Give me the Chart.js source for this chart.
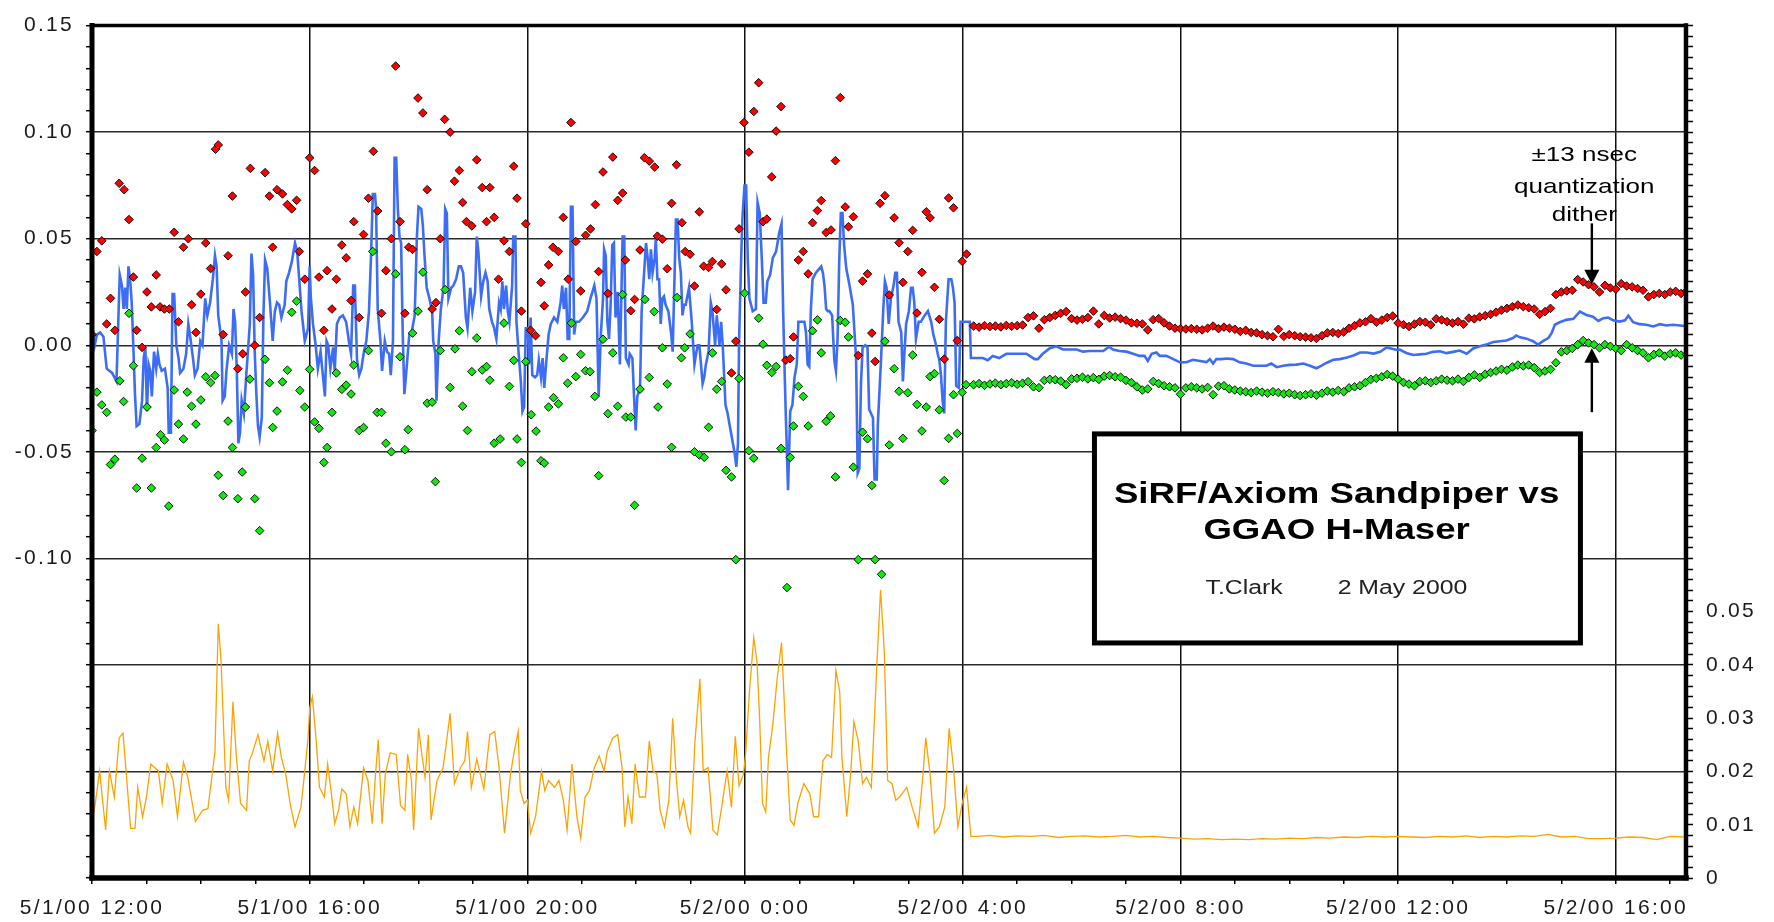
<!DOCTYPE html>
<html>
<head>
<meta charset="utf-8">
<script src="https://cdn.jsdelivr.net/npm/chart.js@4/dist/chart.umd.min.js"></script>
<style>
  html, body { margin: 0; padding: 0; background: #ffffff; }
  #c { display: block; }
</style>
</head>
<body>
<canvas id="c" width="1774" height="922"></canvas>
<script>
// ---------------- DATA (hours since 5/1/00 12:00, offsets) ----------------
const xTickLabels = ["5/1/00 12:00", "5/1/00 16:00", "5/1/00 20:00", "5/2/00 0:00",
                     "5/2/00 4:00", "5/2/00 8:00", "5/2/00 12:00", "5/2/00 16:00"];
const leftTickLabels = ["-0.10", "-0.05", "0.00", "0.05", "0.10", "0.15"];
const rightTickLabels = ["0", "0.01", "0.02", "0.03", "0.04", "0.05"];

// blue: mean offset (left axis)
const bluePts = [
[0.00,-0.018],[0.02,0.004],[0.05,0.000],[0.09,0.005],[0.15,0.006],[0.21,0.004],[0.27,-0.011],[0.37,-0.013],[0.45,-0.017],[0.49,0.017],[0.51,0.033],[0.55,0.028],[0.58,0.017],[0.61,0.027],[0.64,0.017],[0.67,0.037],[0.70,0.031],[0.73,0.020],[0.76,-0.001],[0.79,-0.023],[0.82,-0.038],[0.87,-0.037],[0.92,-0.026],[0.95,-0.006],[0.98,-0.001],[1.01,-0.031],[1.04,-0.009],[1.07,-0.012],[1.10,-0.024],[1.14,-0.003],[1.18,-0.011],[1.21,-0.004],[1.24,-0.009],[1.28,-0.012],[1.34,-0.011],[1.39,-0.020],[1.41,-0.041],[1.45,-0.041],[1.48,0.024],[1.51,0.024],[1.55,0.000],[1.59,-0.006],[1.62,-0.013],[1.68,-0.011],[1.73,-0.004],[1.77,0.010],[1.80,0.005],[1.86,-0.007],[1.89,-0.014],[1.94,-0.011],[1.99,0.002],[2.03,0.000],[2.08,0.022],[2.12,0.014],[2.17,0.020],[2.22,0.031],[2.26,0.042],[2.29,0.037],[2.32,0.014],[2.38,0.002],[2.40,-0.026],[2.44,-0.024],[2.47,-0.012],[2.52,0.000],[2.57,-0.004],[2.60,0.017],[2.63,0.011],[2.66,-0.011],[2.69,-0.046],[2.72,-0.041],[2.75,-0.026],[2.79,-0.032],[2.84,-0.012],[2.90,0.010],[2.93,0.043],[2.96,0.033],[2.99,-0.003],[3.02,-0.023],[3.05,-0.038],[3.08,-0.043],[3.12,-0.034],[3.15,0.014],[3.18,0.040],[3.22,0.036],[3.27,0.020],[3.32,0.002],[3.36,0.016],[3.40,0.020],[3.44,0.019],[3.48,0.013],[3.54,0.019],[3.57,0.030],[3.62,0.034],[3.67,0.039],[3.73,0.048],[3.77,0.044],[3.81,0.030],[3.85,0.016],[3.91,0.002],[3.97,0.008],[4.00,0.037],[4.02,0.023],[4.06,0.010],[4.11,0.000],[4.15,-0.011],[4.20,-0.003],[4.23,-0.011],[4.28,-0.024],[4.31,0.002],[4.34,0.000],[4.38,-0.011],[4.43,-0.001],[4.46,-0.012],[4.50,0.010],[4.55,0.013],[4.61,0.014],[4.67,0.011],[4.72,0.002],[4.76,-0.004],[4.80,0.028],[4.83,0.028],[4.87,-0.007],[4.91,-0.014],[4.95,-0.011],[4.99,-0.004],[5.04,0.002],[5.09,0.016],[5.13,0.044],[5.16,0.071],[5.20,0.071],[5.22,0.064],[5.25,0.017],[5.30,0.002],[5.33,-0.012],[5.38,0.002],[5.42,-0.003],[5.46,-0.004],[5.49,-0.014],[5.53,0.002],[5.56,0.088],[5.59,0.088],[5.62,0.064],[5.65,0.051],[5.68,0.048],[5.71,0.005],[5.74,-0.023],[5.77,-0.014],[5.83,0.005],[5.88,0.007],[5.93,0.014],[5.97,0.051],[6.00,0.065],[6.05,0.064],[6.08,0.056],[6.11,0.042],[6.15,0.027],[6.20,0.022],[6.25,0.016],[6.27,0.002],[6.31,-0.004],[6.33,-0.026],[6.37,0.002],[6.41,0.017],[6.46,0.027],[6.49,0.064],[6.52,0.062],[6.55,0.022],[6.60,0.027],[6.64,0.028],[6.69,0.031],[6.74,0.037],[6.78,0.037],[6.82,0.034],[6.87,0.013],[6.90,0.008],[6.95,0.027],[6.99,0.016],[7.04,0.025],[7.07,0.051],[7.10,0.044],[7.15,0.023],[7.19,0.030],[7.23,0.034],[7.27,0.030],[7.30,0.017],[7.35,0.011],[7.39,0.008],[7.43,0.003],[7.48,0.020],[7.51,0.017],[7.54,0.030],[7.57,0.017],[7.61,0.028],[7.64,0.016],[7.67,0.011],[7.72,0.028],[7.74,0.051],[7.78,0.051],[7.80,0.011],[7.84,-0.004],[7.88,-0.017],[7.91,-0.031],[7.94,-0.029],[7.97,0.008],[8.01,0.008],
[8.03,-0.009],[8.06,0.013],[8.09,-0.014],[8.14,-0.015],[8.18,-0.014],[8.21,-0.007],[8.25,-0.015],[8.28,-0.006],[8.31,-0.020],[8.35,-0.007],[8.39,0.005],[8.43,0.010],[8.49,0.013],[8.55,0.011],[8.61,0.020],[8.64,0.028],[8.67,0.017],[8.71,0.027],[8.74,0.003],[8.77,0.003],[8.80,0.065],[8.83,0.065],[8.86,0.005],[8.89,0.011],[8.95,0.011],[9.02,0.013],[9.10,0.016],[9.16,0.022],[9.23,0.028],[9.27,0.022],[9.31,-0.024],[9.35,0.005],[9.39,0.022],[9.41,0.045],[9.44,0.042],[9.47,0.011],[9.50,0.003],[9.53,0.019],[9.56,0.047],[9.59,0.048],[9.62,0.013],[9.66,0.025],[9.70,-0.009],[9.75,0.051],[9.78,0.051],[9.81,-0.006],[9.86,-0.009],[9.88,-0.004],[9.93,-0.006],[9.96,-0.024],[9.99,-0.040],[10.02,-0.024],[10.07,-0.020],[10.10,0.016],[10.15,0.036],[10.18,0.048],[10.21,0.041],[10.24,0.031],[10.27,0.045],[10.30,0.034],[10.34,0.041],[10.36,0.050],[10.39,0.031],[10.42,0.031],[10.45,0.010],[10.48,0.022],[10.51,0.023],[10.54,0.019],[10.59,0.016],[10.64,0.006],[10.67,-0.003],[10.73,0.059],[10.76,0.059],[10.79,0.041],[10.82,0.034],[10.85,0.014],[10.88,0.019],[10.91,0.019],[10.97,0.027],[11.02,0.011],[11.07,-0.009],[11.10,-0.004],[11.13,0.000],[11.16,0.000],[11.19,-0.009],[11.22,-0.018],[11.25,-0.015],[11.28,-0.009],[11.33,-0.003],[11.37,0.020],[11.40,0.016],[11.45,0.000],[11.48,0.014],[11.53,0.000],[11.56,0.011],[11.59,0.000],[11.64,-0.028],[11.68,-0.032],[11.72,-0.038],[11.77,-0.045],[11.81,-0.051],[11.84,-0.057],[11.87,-0.046],[11.89,0.002],[11.93,0.042],[11.95,0.059],[11.99,0.075],[12.02,0.075],[12.05,0.040],[12.08,0.022],[12.14,0.016],[12.20,0.017],[12.23,0.067],[12.27,0.062],[12.31,0.039],[12.34,0.020],[12.38,0.020],[12.41,0.030],[12.46,0.033],[12.51,0.041],[12.57,0.044],[12.63,0.053],[12.67,0.057],[12.70,0.016],[12.73,-0.015],[12.75,-0.034],[12.79,-0.068],[12.83,-0.031],[12.87,-0.028],[12.91,-0.015],[12.95,-0.009],[12.98,0.011],[13.03,0.011],[13.09,0.011],[13.12,0.006],[13.15,-0.009],[13.18,-0.010],[13.21,0.017],[13.24,0.031],[13.30,0.034],[13.40,0.037],[13.43,0.034],[13.46,0.028],[13.49,0.017],[13.52,0.016],[13.55,0.016],[13.60,0.014],[13.64,-0.007],[13.67,-0.012],[13.70,0.003],[13.73,0.039],[13.76,0.062],[13.79,0.062],[13.82,0.047],[13.86,0.036],[13.92,0.028],[13.98,0.019],[14.04,-0.006],[14.07,-0.060],[14.10,-0.058],[14.13,-0.018],[14.16,-0.001],[14.21,0.000],[14.25,-0.001],[14.28,-0.030],[14.35,-0.034],[14.38,-0.063],[14.42,-0.063],[14.44,-0.037],[14.50,-0.006],[14.54,0.017],[14.57,0.030],[14.60,0.027],[14.64,0.010],[14.68,0.022],[14.73,0.028],[14.76,0.034],[14.79,0.034],[14.82,0.011],[14.87,0.006],[14.90,-0.017],[14.93,-0.003],[14.96,0.010],[15.01,0.016],[15.05,0.027],[15.08,0.027],[15.11,0.020],[15.14,0.003],[15.19,0.011],[15.23,0.011],[15.30,0.014],[15.36,0.016],[15.42,0.011],[15.46,0.005],[15.51,0.000],[15.54,-0.004],[15.57,-0.007],[15.60,-0.014],[15.63,-0.026],[15.66,-0.032],[15.69,0.011],[15.74,0.031],[15.79,0.031],[15.82,0.027],[15.85,0.020],[15.88,-0.019],[15.93,-0.020],[15.96,0.011],[16.13,0.011],[16.15,-0.006],
[16.37,-0.006],[16.46,-0.007],[16.55,-0.005],[16.67,-0.006],[16.80,-0.004],[16.98,-0.004],[17.17,-0.004],[17.23,-0.005],[17.32,-0.0065],[17.38,-0.0065],[17.47,-0.004],[17.60,-0.0014],[17.72,-0.0005],[17.84,-0.002],[17.96,-0.002],[18.09,-0.002],[18.21,-0.003],[18.33,-0.0027],[18.45,-0.0027],[18.58,-0.0027],[18.69,-0.0007],[18.76,-0.002],[18.88,-0.0027],[19.01,-0.003],[19.13,-0.004],[19.25,-0.005],[19.34,-0.005],[19.40,-0.0074],[19.47,-0.004],[19.56,-0.0034],[19.62,-0.005],[19.74,-0.005],[19.87,-0.0065],[19.99,-0.008],[20.11,-0.008],[20.23,-0.0068],[20.36,-0.0074],[20.48,-0.0079],[20.54,-0.0065],[20.60,-0.0086],[20.66,-0.0065],[20.75,-0.0065],[20.85,-0.0062],[20.97,-0.0065],[21.09,-0.008],[21.21,-0.0086],[21.34,-0.0096],[21.46,-0.0096],[21.58,-0.0096],[21.67,-0.0086],[21.77,-0.0103],[21.89,-0.0096],[22.01,-0.0092],[22.13,-0.0091],[22.26,-0.0086],[22.38,-0.0096],[22.50,-0.0108],[22.56,-0.010],[22.69,-0.0082],[22.81,-0.0068],[22.93,-0.0065],[23.06,-0.0057],[23.18,-0.0048],[23.30,-0.0034],[23.42,-0.0034],[23.55,-0.0039],[23.67,-0.0031],[23.79,-0.001],[23.85,-0.0014],[23.98,-0.0022],[24.03,-0.002],[24.15,-0.0036],[24.28,-0.0046],[24.40,-0.0043],[24.52,-0.004],[24.64,-0.0031],[24.77,-0.0028],[24.89,-0.0037],[25.01,-0.0031],[25.13,-0.0025],[25.26,-0.004],[25.38,-0.0015],[25.50,-0.0005],[25.62,0.0003],[25.75,0.0015],[25.87,0.0019],[25.99,0.0022],[26.11,0.0034],[26.17,0.0046],[26.24,0.0037],[26.36,0.0031],[26.48,0.0019],[26.57,0.0003],[26.66,0.0019],[26.76,0.0034],[26.82,0.0057],[26.88,0.0096],[26.97,0.0108],[27.09,0.0119],[27.22,0.0124],[27.34,0.0158],[27.46,0.0142],[27.58,0.0134],[27.68,0.0114],[27.77,0.0127],[27.86,0.013],[27.95,0.0117],[28.07,0.0111],[28.17,0.0117],[28.23,0.0139],[28.32,0.0108],[28.44,0.0099],[28.56,0.0096],[28.69,0.0088],[28.81,0.0099],[28.93,0.0093],[29.05,0.0096],[29.18,0.0093],[29.27,0.009]
];

// red: upper samples, noisy period (left axis)
const redNoisy = [
[0.00,0.005],[0.09,0.044],[0.18,0.049],[0.27,0.010],[0.34,0.022],[0.42,0.007],[0.50,0.076],[0.59,0.073],[0.68,0.059],[0.76,0.032],[0.82,0.007],[0.92,-0.001],[1.01,0.025],[1.09,0.018],[1.18,0.033],[1.25,0.018],[1.33,0.017],[1.42,0.017],[1.51,0.053],[1.59,0.011],[1.68,0.046],[1.77,0.050],[1.83,0.019],[1.91,0.006],[2.00,0.024],[2.09,0.048],[2.18,0.036],[2.27,0.092],[2.32,0.094],[2.41,0.005],[2.50,0.042],[2.58,0.070],[2.68,-0.011],[2.77,-0.004],[2.82,0.025],[2.91,0.083],[2.99,0.000],[3.08,0.013],[3.18,0.081],[3.26,0.070],[3.32,0.046],[3.40,0.073],[3.50,0.071],[3.59,0.066],[3.67,0.064],[3.76,0.068],[3.81,0.044],[3.91,0.031],[4.00,0.088],[4.09,0.082],[4.17,0.032],[4.26,0.007],[4.32,0.035],[4.41,0.017],[4.49,0.031],[4.59,0.047],[4.67,0.041],[4.76,0.021],[4.81,0.058],[4.91,0.013],[4.99,0.052],[5.08,0.069],[5.17,0.091],[5.25,0.063],[5.32,0.015],[5.40,0.035],[5.50,0.050],[5.58,0.131],[5.66,0.058],[5.75,0.015],[5.82,0.046],[5.89,0.045],[5.99,0.116],[6.08,0.109],[6.16,0.073],[6.25,0.017],[6.32,0.020],[6.40,0.050],[6.48,0.106],[6.58,0.100],[6.66,0.077],[6.75,0.082],[6.81,0.067],[6.88,0.058],[6.98,0.056],[7.07,0.087],[7.17,0.074],[7.25,0.058],[7.31,0.074],[7.39,0.060],[7.47,0.031],[7.57,0.049],[7.67,0.044],[7.75,0.084],[7.81,0.069],[7.89,0.016],[7.97,0.057],
[8.06,0.007],[8.15,0.0045],[8.25,0.0295],[8.31,0.0185],[8.39,0.0377],[8.47,0.046],[8.57,0.044],[8.66,0.060],[8.75,0.031],[8.80,0.1045],[8.89,0.0487],[8.98,0.0255],[9.07,0.0516],[9.16,0.0546],[9.25,0.066],[9.31,0.0346],[9.39,0.0813],[9.48,0.0243],[9.57,0.0883],[9.66,0.068],[9.75,0.0714],[9.80,0.040],[9.90,0.0162],[9.97,0.0215],[10.07,0.0447],[10.15,0.088],[10.24,0.0864],[10.34,0.0836],[10.39,0.0512],[10.48,0.0498],[10.57,0.0359],[10.65,0.0666],[10.74,0.0847],[10.84,0.0575],[10.90,0.044],[10.99,0.0427],[11.07,0.0278],[11.16,0.0626],[11.24,0.0371],[11.33,0.0365],[11.40,0.0393],[11.48,0.0168],[11.57,0.0382],[11.65,0.026],[11.75,-0.013],[11.83,0.0019],[11.89,0.0546],[11.98,0.1045],[12.07,0.0906],[12.16,0.1097],[12.25,0.1232],[12.33,0.058],[12.40,0.0592],[12.49,0.079],[12.57,0.1005],[12.66,0.112],[12.75,-0.007],[12.83,-0.0063],[12.89,0.0039],[12.98,0.040],[13.07,0.044],[13.16,0.0335],[13.24,0.0575],[13.33,0.0632],[13.40,0.0679],[13.49,0.0529],[13.58,0.0541],[13.66,0.0866],[13.75,0.1162],[13.84,0.0649],[13.90,0.0556],[13.99,0.0603],[14.08,-0.0048],[14.16,0.0301],[14.25,0.0335],[14.33,0.0057],[14.39,-0.0076],[14.48,0.0666],[14.57,0.0702],[14.65,0.0236],[14.74,0.0598],[14.83,0.0481],[14.90,0.0295],[14.99,0.044],[15.08,0.0539],[15.16,0.0151],[15.25,0.0342],[15.33,0.0626],[15.40,0.0598],[15.48,0.0272],[15.57,0.0122],[15.66,-0.0065],[15.74,0.0691],[15.83,0.0645],[15.90,0.0022],[15.99,0.0394],[16.07,0.0428]
];

// green: lower samples, noisy period (left axis)
const greenNoisy = [
[0.00,-0.040],[0.09,-0.022],[0.18,-0.028],[0.27,-0.0315],[0.34,-0.056],[0.42,-0.0535],[0.51,-0.0167],[0.58,-0.0264],[0.68,0.015],[0.76,-0.0096],[0.82,-0.067],[0.92,-0.053],[1.01,-0.029],[1.09,-0.067],[1.18,-0.048],[1.26,-0.042],[1.33,-0.0445],[1.41,-0.0755],[1.51,-0.021],[1.59,-0.037],[1.68,-0.044],[1.75,-0.022],[1.83,-0.0286],[1.91,-0.037],[2.00,-0.0257],[2.09,-0.0148],[2.18,-0.0175],[2.26,-0.0142],[2.32,-0.061],[2.41,-0.0705],[2.50,-0.0356],[2.58,-0.048],[2.68,-0.072],[2.76,-0.0595],[2.82,-0.029],[2.90,-0.0159],[2.99,-0.072],[3.08,-0.087],[3.18,-0.0066],[3.26,-0.0176],[3.32,-0.0386],[3.40,-0.0309],[3.50,-0.0172],[3.59,-0.0117],[3.67,0.0155],[3.76,0.0207],[3.82,-0.0212],[3.91,-0.029],[4.00,-0.0113],[4.09,-0.036],[4.17,-0.039],[4.26,-0.055],[4.32,-0.048],[4.41,-0.0315],[4.49,-0.013],[4.59,-0.0207],[4.67,-0.0187],[4.76,-0.0229],[4.81,-0.0093],[4.91,-0.040],[4.99,-0.0386],[5.08,-0.0025],[5.16,0.044],[5.24,-0.0315],[5.32,-0.0315],[5.40,-0.046],[5.50,-0.050],[5.58,0.0335],[5.66,-0.0054],[5.75,-0.049],[5.81,-0.0396],[5.89,0.0057],[5.99,0.016],[6.08,0.0343],[6.16,-0.0272],[6.25,-0.0267],[6.31,-0.064],[6.40,-0.0025],[6.49,0.0261],[6.58,-0.0198],[6.67,-0.0017],[6.75,0.0068],[6.81,-0.0286],[6.90,-0.040],[6.98,-0.0124],[7.07,0.0034],[7.17,-0.0116],[7.25,-0.010],[7.31,-0.0164],[7.39,-0.046],[7.50,-0.044],[7.57,0.0104],[7.67,-0.0193],[7.75,-0.0071],[7.81,-0.044],[7.89,-0.055],[7.97,-0.0077],
[8.07,-0.0326],[8.16,-0.0403],[8.25,-0.0542],[8.31,-0.0553],[8.39,-0.029],[8.48,-0.0246],[8.57,-0.0275],[8.66,-0.0059],[8.74,-0.0178],[8.81,0.0104],[8.89,-0.0147],[8.98,-0.0043],[9.07,-0.012],[9.15,-0.0124],[9.24,-0.024],[9.31,-0.0612],[9.39,0.0028],[9.48,-0.0321],[9.57,-0.0036],[9.66,-0.0286],[9.75,0.0238],[9.81,-0.0337],[9.90,-0.0337],[9.97,-0.0751],[10.07,-0.0206],[10.16,0.0215],[10.24,-0.0151],[10.33,0.0158],[10.40,-0.029],[10.48,-0.0012],[10.57,-0.0182],[10.65,-0.0479],[10.75,0.0224],[10.83,-0.0059],[10.89,-0.0012],[10.99,0.0053],[11.07,-0.050],[11.16,-0.0515],[11.25,-0.0526],[11.33,-0.0385],[11.40,-0.0036],[11.48,-0.0206],[11.57,-0.017],[11.65,-0.0587],[11.75,-0.0618],[11.83,-0.1006],[11.89,-0.0156],[11.99,0.0244],[12.07,-0.0495],[12.16,-0.053],[12.25,0.0127],[12.33,0.0005],[12.40,-0.0094],[12.49,-0.0128],[12.57,-0.010],[12.66,-0.0484],[12.77,-0.1137],[12.83,-0.0526],[12.89,-0.0379],[12.98,-0.0193],[13.07,-0.024],[13.16,-0.0379],[13.24,0.0068],[13.33,0.0119],[13.40,-0.0036],[13.49,-0.0357],[13.57,-0.0332],[13.66,-0.0618],[13.75,0.0116],[13.84,0.0108],[13.90,0.0039],[13.99,-0.0572],[14.08,-0.1006],[14.16,-0.0408],[14.25,-0.0439],[14.33,-0.0658],[14.39,-0.1006],[14.51,-0.1075],[14.57,0.0019],[14.65,-0.0468],[14.74,-0.011],[14.83,-0.0216],[14.90,-0.0437],[14.99,-0.0223],[15.08,-0.0046],[15.16,-0.0278],[15.25,-0.0402],[15.33,-0.029],[15.40,-0.0147],[15.48,-0.0133],[15.57,-0.0303],[15.66,-0.0635],[15.74,-0.0437],[15.83,-0.0232],[15.90,-0.0414],[15.99,-0.0221],[16.06,-0.0185]
];

// quiet period: samples every 0.1 h from 16.2 h to 29.3 h
const quietStart = 16.2, quietStep = 0.1;
const redQuiet = [
0.0090,0.0085,0.0092,0.0088,0.0090,0.0086,0.0093,0.0089,0.0092,0.0095,
0.0130,0.0138,0.0080,0.0120,0.0130,0.0140,0.0150,0.0158,0.0125,0.0118,
0.0122,0.0130,0.0160,0.0100,0.0140,0.0128,0.0132,0.0125,0.0118,0.0105,
0.0103,0.0100,0.0072,0.0120,0.0125,0.0105,0.0090,0.0080,0.0078,0.0076,
0.0078,0.0075,0.0072,0.0080,0.0090,0.0078,0.0085,0.0080,0.0075,0.0065,
0.0070,0.0060,0.0058,0.0050,0.0045,0.0040,0.0075,0.0042,0.0050,0.0045,
0.0040,0.0038,0.0035,0.0032,0.0045,0.0058,0.0060,0.0055,0.0062,0.0080,
0.0092,0.0105,0.0110,0.0125,0.0108,0.0118,0.0130,0.0137,0.0104,0.0096,
0.0088,0.0099,0.0111,0.0108,0.0096,0.0124,0.0119,0.0111,0.0104,0.0111,
0.0099,0.0127,0.0124,0.0133,0.0139,0.0145,0.0155,0.0165,0.0173,0.0181,
0.0189,0.0181,0.0176,0.0170,0.0145,0.0158,0.0173,0.0238,0.0250,0.0255,
0.0258,0.0308,0.0297,0.0284,0.0274,0.0250,0.0281,0.0269,0.0263,0.0289,
0.0278,0.0274,0.0266,0.0258,0.0227,0.0238,0.0243,0.0238,0.0250,0.0253,
0.0243,0.0255
];
const greenQuiet = [
-0.0185,-0.0180,-0.0188,-0.0182,-0.0178,-0.0185,-0.0180,-0.0176,-0.0183,-0.0178,
-0.0171,-0.0195,-0.0199,-0.0165,-0.0160,-0.0162,-0.0168,-0.0185,-0.0158,-0.0155,
-0.0150,-0.0158,-0.0152,-0.0160,-0.0145,-0.0142,-0.0148,-0.0150,-0.0165,-0.0175,
-0.0195,-0.0210,-0.0205,-0.0170,-0.0180,-0.0190,-0.0195,-0.0200,-0.0230,-0.0200,
-0.0195,-0.0200,-0.0205,-0.0198,-0.0232,-0.0192,-0.0190,-0.0205,-0.0210,-0.0215,
-0.0218,-0.0222,-0.0215,-0.0220,-0.0225,-0.0218,-0.0222,-0.0228,-0.0225,-0.0232,
-0.0236,-0.0232,-0.0228,-0.0234,-0.0225,-0.0215,-0.0220,-0.0212,-0.0218,-0.0200,
-0.0195,-0.0190,-0.0175,-0.0160,-0.0155,-0.0148,-0.0137,-0.0145,-0.0159,-0.0175,
-0.0182,-0.0190,-0.0170,-0.0167,-0.0175,-0.0167,-0.0159,-0.0164,-0.0167,-0.0159,
-0.0170,-0.0151,-0.0139,-0.0151,-0.0136,-0.0128,-0.0121,-0.0113,-0.0117,-0.0102,
-0.0093,-0.0097,-0.0093,-0.0105,-0.0128,-0.0121,-0.0113,-0.0082,-0.0031,-0.0025,
-0.0015,0.0003,0.0022,0.0011,0.0003,-0.0012,0.0003,-0.0005,-0.0015,-0.0025,
0.0003,-0.0012,-0.0025,-0.0036,-0.0059,-0.0043,-0.0036,-0.0051,-0.0040,-0.0036,
-0.0046,-0.0043
];

// orange: scatter (sigma) on right axis
const orangePts = [
[0.00,0.0102],[0.06,0.0140],[0.14,0.0201],[0.25,0.0090],[0.32,0.0201],[0.41,0.0152],[0.50,0.0263],[0.57,0.0272],[0.63,0.0195],[0.71,0.0093],[0.79,0.0093],[0.84,0.0170],[0.93,0.0115],[1.00,0.0152],[1.08,0.0214],[1.22,0.0201],[1.29,0.0140],[1.38,0.0214],[1.49,0.0183],[1.57,0.0115],[1.68,0.0217],[1.76,0.0189],[1.90,0.0106],[2.03,0.0127],[2.13,0.0130],[2.26,0.0238],[2.32,0.0477],[2.37,0.0411],[2.46,0.0170],[2.51,0.0146],[2.59,0.0331],[2.65,0.0232],[2.73,0.0140],[2.84,0.0127],[2.89,0.0220],[2.94,0.0232],[3.05,0.0269],[3.16,0.0220],[3.23,0.0257],[3.32,0.0201],[3.41,0.0272],[3.48,0.0226],[3.56,0.0195],[3.64,0.0140],[3.73,0.0096],[3.84,0.0133],[3.91,0.0201],[3.97,0.0263],[4.00,0.0319],[4.05,0.0340],[4.12,0.0257],[4.18,0.0170],[4.27,0.0152],[4.33,0.0214],[4.40,0.0158],[4.46,0.0102],[4.53,0.0127],[4.59,0.0167],[4.67,0.0158],[4.74,0.0096],[4.81,0.0133],[4.88,0.0102],[4.94,0.0158],[4.99,0.0207],[5.07,0.0183],[5.15,0.0102],[5.21,0.0195],[5.26,0.0260],[5.33,0.0102],[5.39,0.0195],[5.48,0.0235],[5.59,0.0232],[5.67,0.0136],[5.75,0.0127],[5.80,0.0232],[5.87,0.0183],[5.91,0.0090],[6.00,0.0281],[6.07,0.0226],[6.12,0.0189],[6.18,0.0269],[6.23,0.0109],[6.34,0.0183],[6.45,0.0207],[6.50,0.0244],[6.58,0.0309],[6.66,0.0177],[6.77,0.0207],[6.85,0.0220],[6.90,0.0275],[6.97,0.0170],[7.07,0.0223],[7.20,0.0167],[7.31,0.0269],[7.40,0.0275],[7.48,0.0207],[7.58,0.0084],[7.69,0.0195],[7.76,0.0238],[7.83,0.0275],[7.87,0.0164],[7.94,0.0140],[8.00,0.0146],[8.06,0.0084],[8.15,0.0115],[8.26,0.0201],[8.32,0.0164],[8.39,0.0183],[8.50,0.0170],[8.58,0.0183],[8.66,0.0146],[8.73,0.0090],[8.82,0.0214],[8.91,0.0115],[8.98,0.0075],[9.06,0.0152],[9.14,0.0164],[9.23,0.0207],[9.32,0.0229],[9.41,0.0201],[9.47,0.0238],[9.57,0.0263],[9.66,0.0269],[9.74,0.0207],[9.79,0.0096],[9.85,0.0152],[9.92,0.0102],[9.98,0.0214],[10.06,0.0152],[10.17,0.0152],[10.24,0.0257],[10.31,0.0201],[10.38,0.0195],[10.44,0.0127],[10.52,0.0096],[10.60,0.0146],[10.67,0.0300],[10.74,0.0183],[10.80,0.0115],[10.87,0.0146],[10.95,0.0096],[11.00,0.0084],[11.08,0.0257],[11.17,0.0374],[11.23,0.0201],[11.32,0.0207],[11.41,0.0090],[11.49,0.0081],[11.57,0.0133],[11.67,0.0201],[11.75,0.0133],[11.82,0.0266],[11.89,0.0173],[11.97,0.0195],[12.01,0.0232],[12.08,0.0349],[12.16,0.0451],[12.22,0.0405],[12.27,0.0294],[12.32,0.0140],[12.38,0.0124],[12.43,0.0226],[12.51,0.0288],[12.59,0.0374],[12.67,0.0442],[12.76,0.0244],[12.83,0.0109],[12.90,0.0099],[12.97,0.0140],[13.08,0.0177],[13.19,0.0158],[13.26,0.0115],[13.35,0.0115],[13.43,0.0220],[13.51,0.0232],[13.59,0.0226],[13.67,0.0390],[13.74,0.0349],[13.78,0.0226],[13.87,0.0115],[13.94,0.0195],[14.00,0.0294],[14.08,0.0257],[14.16,0.0177],[14.23,0.0189],[14.32,0.0170],[14.43,0.0417],[14.49,0.0541],[14.56,0.0423],[14.62,0.0183],[14.70,0.0177],[14.77,0.0146],[14.84,0.0152],[14.97,0.0170],[15.07,0.0133],[15.18,0.0096],[15.26,0.0183],[15.32,0.0263],[15.40,0.0195],[15.48,0.0084],[15.57,0.0096],[15.67,0.0133],[15.75,0.0281],[15.83,0.0207],[15.91,0.0096],[15.99,0.0140],[16.07,0.0170],[16.15,0.0078],
[16.25,0.0078],[16.5,0.0080],[16.75,0.0077],[17,0.0079],[17.25,0.0078],[17.5,0.0080],[17.75,0.0076],[18,0.0078],[18.25,0.0079],[18.5,0.0077],[18.75,0.0078],[19,0.0080],[19.25,0.0077],[19.5,0.0078],[19.75,0.0076],[20,0.0075],[20.25,0.0073],[20.5,0.0074],[20.75,0.0072],[21,0.0073],[21.25,0.0072],[21.5,0.0074],[21.75,0.0073],[22,0.0075],[22.25,0.0074],[22.5,0.0076],[22.75,0.0075],[23,0.0077],[23.25,0.0076],[23.5,0.0078],[23.75,0.0077],[24,0.0078],[24.25,0.0077],[24.5,0.0076],[24.75,0.0078],[25,0.0077],[25.25,0.0079],[25.5,0.0076],[25.75,0.0078],[26,0.0077],[26.25,0.0079],[26.5,0.0078],[26.75,0.0082],[27,0.0077],[27.25,0.0078],[27.5,0.0074],[27.75,0.0074],[28,0.0075],[28.25,0.0077],[28.5,0.0076],[28.75,0.0072],[29,0.0078],[29.25,0.0077]
];

// ---------------- build datasets ----------------
const toXY = arr => arr.map(p => ({x: p[0], y: p[1]}));
const quietXY = vals => vals.map((v, i) => ({x: +(quietStart + i * quietStep).toFixed(2), y: v}));
const redData = toXY(redNoisy).concat(quietXY(redQuiet));
const greenData = toXY(greenNoisy).concat(quietXY(greenQuiet));

const near = (v, step) => Math.abs(Math.round(v / step) * step - v) < 1e-7;

// annotation anchors in data units (hours, left-axis value)
const noteBox = {x0: 18.42, x1: 27.35, y0: -0.0416, y1: -0.1397};
const noteTitle = ["SiRF/Axiom Sandpiper vs", "GGAO H-Maser"];
const noteAuthor = "T.Clark", noteDate = "2 May 2000";
const ditherText = ["\u00B113 nsec", "quantization", "dither"];

const frameAndNotes = {
  id: 'frameAndNotes',
  beforeDraw(chart) { chart.ctx.letterSpacing = '2.3px'; },
  afterDatasetsDraw(chart) {
    const {ctx, chartArea: a} = chart;
    const sx = chart.scales.x, sy = chart.scales.y;
    const X = v => sx.getPixelForValue(v), Y = v => sy.getPixelForValue(v);
    ctx.save();
    ctx.letterSpacing = '0px';
    // plot frame
    ctx.strokeStyle = '#000';
    ctx.lineCap = 'square';
    ctx.lineWidth = 3.5; ctx.beginPath(); ctx.moveTo(a.left, a.top); ctx.lineTo(a.right, a.top); ctx.stroke();
    ctx.lineWidth = 5.5; ctx.beginPath(); ctx.moveTo(a.left, a.bottom); ctx.lineTo(a.right, a.bottom); ctx.stroke();
    ctx.lineWidth = 5; ctx.beginPath(); ctx.moveTo(a.left, a.top); ctx.lineTo(a.left, a.bottom); ctx.stroke();
    ctx.lineWidth = 4.5; ctx.beginPath(); ctx.moveTo(a.right, a.top); ctx.lineTo(a.right, a.bottom); ctx.stroke();

    // title box
    const bx0 = X(noteBox.x0), bx1 = X(noteBox.x1), by0 = Y(noteBox.y0), by1 = Y(noteBox.y1);
    ctx.fillStyle = '#fff';
    ctx.fillRect(bx0, by0, bx1 - bx0, by1 - by0);
    ctx.lineCap = 'butt';
    ctx.lineWidth = 5;
    ctx.strokeStyle = '#000';
    ctx.strokeRect(bx0, by0, bx1 - bx0, by1 - by0);

    const stretched = (txt, cx, cy, font, color, sxf) => {
      ctx.save();
      ctx.translate(cx, cy);
      ctx.scale(sxf, 1);
      ctx.font = font;
      ctx.fillStyle = color;
      ctx.textAlign = 'center';
      ctx.textBaseline = 'middle';
      ctx.fillText(txt, 0, 0);
      ctx.restore();
    };
    const cx = X(22.87);
    stretched(noteTitle[0], cx, Y(-0.0702), 'bold 30px "Liberation Sans", Arial, sans-serif', '#000', 1.22);
    stretched(noteTitle[1], cx, Y(-0.0869), 'bold 30px "Liberation Sans", Arial, sans-serif', '#000', 1.22);
    stretched(noteAuthor, X(21.17), Y(-0.1143), '20px "Liberation Sans", Arial, sans-serif', '#222', 1.24);
    stretched(noteDate, X(24.08), Y(-0.1143), '20px "Liberation Sans", Arial, sans-serif', '#222', 1.24);

    // dither note
    const dx = X(27.42);
    stretched(ditherText[0], dx, Y(0.089), '21px "Liberation Sans", Arial, sans-serif', '#000', 1.24);
    stretched(ditherText[1], dx, Y(0.0743), '21px "Liberation Sans", Arial, sans-serif', '#000', 1.24);
    stretched(ditherText[2], dx, Y(0.0611), '21px "Liberation Sans", Arial, sans-serif', '#000', 1.24);

    const arrow = (xv, fromV, toV) => {
      const ax = X(xv), y0 = Y(fromV), y1 = Y(toV);
      const dir = y1 > y0 ? 1 : -1;
      ctx.strokeStyle = '#000';
      ctx.fillStyle = '#000';
      ctx.lineWidth = 2.4;
      ctx.beginPath(); ctx.moveTo(ax, y0); ctx.lineTo(ax, y1 - dir * 12); ctx.stroke();
      ctx.beginPath();
      ctx.moveTo(ax, y1);
      ctx.lineTo(ax - 7.5, y1 - dir * 14.5);
      ctx.lineTo(ax + 7.5, y1 - dir * 14.5);
      ctx.closePath(); ctx.fill();
    };
    arrow(27.56, 0.0572, 0.0286);
    arrow(27.56, -0.0314, -0.0014);
    ctx.restore();
  },
  afterDraw(chart) { chart.ctx.letterSpacing = '0px'; }
};

Chart.defaults.font.family = '"Liberation Sans", Arial, sans-serif';
Chart.defaults.font.size = 21;
Chart.defaults.color = '#1a1a1a';

new Chart(document.getElementById('c'), {
  type: 'scatter',
  data: {
    datasets: [
      { type: 'scatter', label: 'upper', data: redData, yAxisID: 'y', order: 1,
        pointStyle: 'rectRot', pointRadius: 4.3, pointBackgroundColor: '#ff0000',
        pointBorderColor: '#000', pointBorderWidth: 0.9, showLine: false },
      { type: 'scatter', label: 'lower', data: greenData, yAxisID: 'y', order: 2,
        pointStyle: 'rectRot', pointRadius: 4.3, pointBackgroundColor: '#14e614',
        pointBorderColor: '#000', pointBorderWidth: 0.9, showLine: false },
      { type: 'line', label: 'mean', data: toXY(bluePts), yAxisID: 'y', order: 3,
        borderColor: '#3d6df4', borderWidth: 2.6, pointRadius: 0, tension: 0, fill: false },
      { type: 'line', label: 'sigma', data: toXY(orangePts), yAxisID: 'y2', order: 4,
        borderColor: '#ffa200', borderWidth: 1.3, pointRadius: 0, tension: 0, fill: false }
    ]
  },
  options: {
    responsive: false,
    devicePixelRatio: 1,
    animation: false,
    events: [],
    layout: { padding: { top: 17, left: 0, right: 0, bottom: 0 } },
    plugins: { legend: { display: false }, tooltip: { enabled: false } },
    scales: {
      x: {
        type: 'linear', position: 'bottom', min: 0, max: 29.29,
        afterFit: s => { s.height = 44; },
        border: { display: false },
        grid: {
          color: c => (near(c.tick.value, 4) ? '#111' : 'rgba(0,0,0,0)'),
          tickColor: '#000', lineWidth: 1.5, tickWidth: 1.5, tickLength: 6, drawTicks: true
        },
        ticks: {
          stepSize: 1, includeBounds: false, autoSkip: false, maxRotation: 0, padding: 12,
          callback: v => (near(v, 4) ? (xTickLabels[Math.round(v / 4)] || '') : '')
        }
      },
      y: {
        type: 'linear', position: 'left', min: -0.25, max: 0.15,
        afterFit: s => { s.width = 92; },
        border: { display: false },
        grid: {
          color: c => (near(c.tick.value, 0.05) ? '#2a2a2a' : 'rgba(0,0,0,0)'),
          tickColor: '#000', lineWidth: 1.4, tickWidth: 1.5, tickLength: 6
        },
        ticks: {
          stepSize: 0.01, autoSkip: false, padding: 12,
          callback: v => {
            if (!near(v, 0.05) || v < -0.1001) return '';
            const idx = Math.round((v + 0.10) / 0.05);
            return leftTickLabels[idx] || '';
          }
        }
      },
      y2: {
        type: 'linear', position: 'right', min: 0, max: 0.16,
        afterFit: s => { s.width = 88; },
        border: { display: false },
        grid: { drawOnChartArea: false, tickColor: '#000', tickWidth: 1.5, tickLength: 7 },
        ticks: {
          stepSize: 0.002, autoSkip: false, padding: 13,
          callback: v => {
            if (!near(v, 0.01) || v > 0.0501) return '';
            return rightTickLabels[Math.round(v / 0.01)] || '';
          }
        }
      }
    }
  },
  plugins: [frameAndNotes]
});
</script>
</body>
</html>
